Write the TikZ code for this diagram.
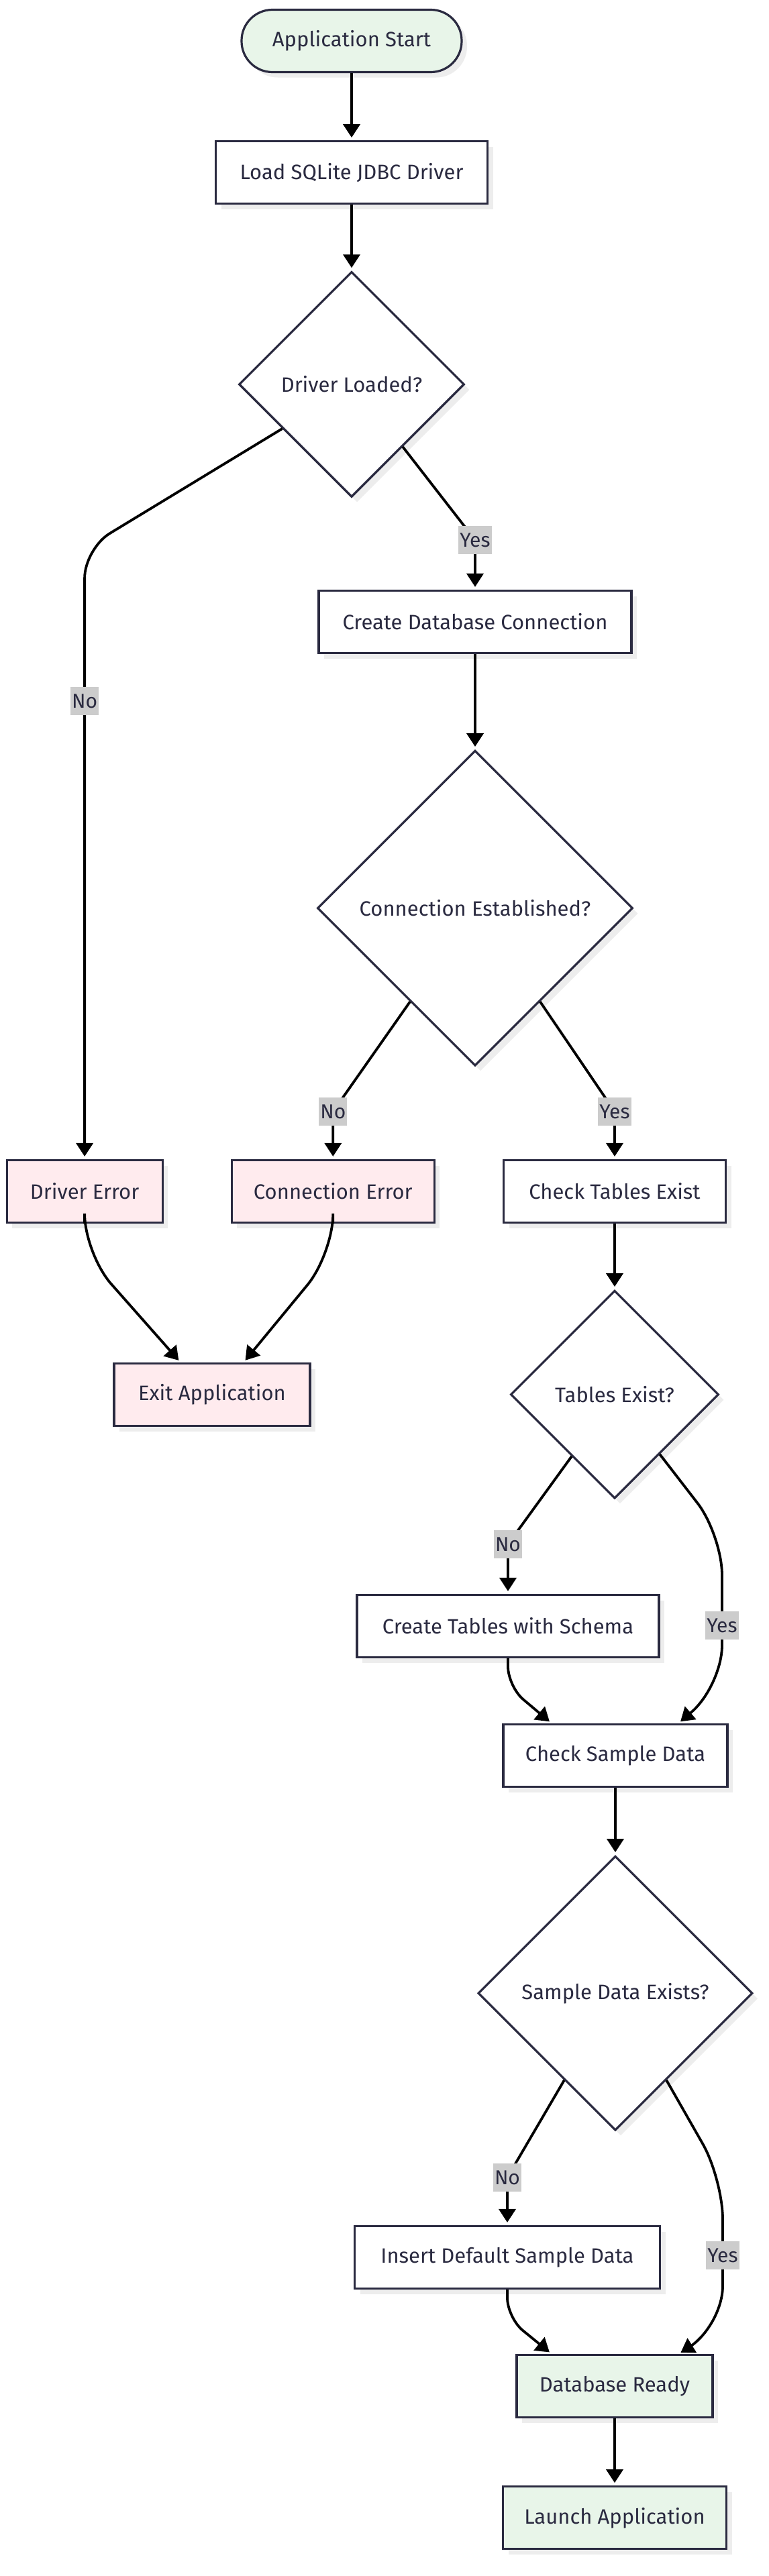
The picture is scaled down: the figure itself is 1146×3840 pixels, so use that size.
\documentclass[tikz,border=0pt]{standalone}
\usepackage{fontspec}
\setmainfont{Fira Sans}
\usetikzlibrary{arrows.meta,positioning,shapes.geometric,calc,shadows}
\definecolor{inkc}{RGB}{42,42,64}
\definecolor{okfill}{RGB}{232,245,233}
\definecolor{errfill}{RGB}{255,235,238}
\definecolor{lblgray}{RGB}{204,204,204}

\begin{document}
\begin{tikzpicture}[
    x=0.5pt, y=-0.5pt,
    shd/.style={drop shadow={shadow xshift=4pt, shadow yshift=-4pt,
                fill=black!7, opacity=1}},
    box/.style={rectangle, draw=inkc, line width=1.6pt, fill=white, text=inkc,
                font=\fontsize{15.5}{18}\selectfont, align=center,
                minimum height=46.5pt, shd},
    term/.style={box, rounded corners=23pt},
    dec/.style={diamond, aspect=1, draw=inkc, line width=1.6pt, fill=white,
                text=inkc, font=\fontsize{15.5}{18}\selectfont, inner sep=0pt, shd},
    lbl/.style={sharp corners, fill=lblgray, text=inkc, font=\fontsize{15}{18}\selectfont,
                inner xsep=1pt, inner ysep=0pt, minimum height=21pt},
    arrow/.style={-{Triangle[length=10pt,width=12.5pt]}, line width=1.9pt,
                  shorten >=2pt},
]
\path[use as bounding box, fill=white] (0,0) rectangle (1146,3840);

\node[term, fill=okfill, minimum width=164pt] (start) at (524,61) {Application Start};
\node[box, minimum width=202.5pt, below=50pt of start] (load) {Load SQLite JDBC Driver};
\node[dec, minimum size=168pt, below=49pt of load] (drvq) {Driver Loaded?};
\node[box, minimum width=233pt] (cdb) at (708,927) {Create Database Connection};
\node[dec, minimum size=235pt, below=71pt of cdb] (connq) {Connection Established?};
\node[box, minimum width=165.5pt] (chk) at (916,1776) {Check Tables Exist};
\node[box, fill=errfill, minimum width=151pt, left=50pt of chk] (cerr) {Connection Error};
\node[box, fill=errfill, minimum width=116pt, left=50pt of cerr] (drverr) {Driver Error};
\node[box, fill=errfill, minimum width=146pt] (exit) at (316,2079) {Exit Application};
\node[dec, minimum size=155pt, below=49pt of chk] (tabq) {Tables Exist?};
\node[box, minimum width=225pt] (ctab) at (757,2424) {Create Tables with Schema};
\node[box, minimum width=167pt] (csd) at (917,2617) {Check Sample Data};
\node[dec, minimum size=204.5pt, below=50pt of csd] (smpq) {Sample Data Exists?};
\node[box, minimum width=227.5pt] (ins) at (756,3365) {Insert Default Sample Data};
\node[box, fill=okfill, minimum width=146pt] (ready) at (916,3557) {Database Ready};
\node[box, fill=okfill, minimum width=166.5pt, below=50pt of ready] (launch) {Launch Application};

\draw[arrow] (start) -- (load);
\draw[arrow] (load) -- (drvq);
\draw[arrow, rounded corners=22pt] ($(drvq.west)!0.39!(drvq.south)$)
    -- ($(drverr.north)+(0,-910)$) -- node[lbl, pos=0.25] {No} (drverr);
\draw[arrow] ($(drvq.south)!0.45!(drvq.east)$) -- ($(cdb.north)+(0,-74)$)
    node[lbl] {Yes} -- (cdb);
\draw[arrow] (cdb) -- (connq);
\draw[arrow] ($(connq.west)!0.59!(connq.south)$) -- ($(cerr.north)+(0,-71)$)
    node[lbl] {No} -- (cerr);
\draw[arrow] ($(connq.south)!0.41!(connq.east)$) -- ($(chk.north)+(0,-71)$)
    node[lbl] {Yes} -- (chk);
\draw[arrow, rounded corners=30pt] (drverr.south) -- ++(0,45) -- ($(exit.north)+(-47,0)$);
\draw[arrow, rounded corners=30pt] (cerr.south) -- ++(0,45) -- ($(exit.north)+(47,0)$);
\draw[arrow] (chk) -- (tabq);
\draw[arrow] ($(tabq.west)!0.59!(tabq.south)$) -- ($(ctab.north)+(0,-74)$)
    node[lbl] {No} -- (ctab);
\draw[arrow, rounded corners=30pt] ($(tabq.south)!0.43!(tabq.east)$)
    -- ($(csd.north)+(159,-281)$) -- node[lbl, pos=0.6] {Yes} ($(csd.north)+(159,-56)$)
    -- ($(csd.north)+(94,0)$);
\draw[arrow, rounded corners=15pt] (ctab.south) -- ++(0,42) -- ($(csd.north)+(-95,0)$);
\draw[arrow] (csd) -- (smpq);
\draw[arrow] ($(smpq.west)!0.63!(smpq.south)$) -- ($(ins.north)+(0,-71)$)
    node[lbl] {No} -- (ins);
\draw[arrow, rounded corners=30pt] ($(smpq.south)!0.37!(smpq.east)$)
    -- ($(ready.north)+(161,-261)$) -- node[lbl, pos=0.52] {Yes} ($(ready.north)+(161,-41)$)
    -- ($(ready.north)+(95,0)$);
\draw[arrow, rounded corners=15pt] (ins.south) -- ++(0,42) -- ($(ready.north)+(-94,0)$);
\draw[arrow] (ready) -- (launch);

\end{tikzpicture}
\end{document}
